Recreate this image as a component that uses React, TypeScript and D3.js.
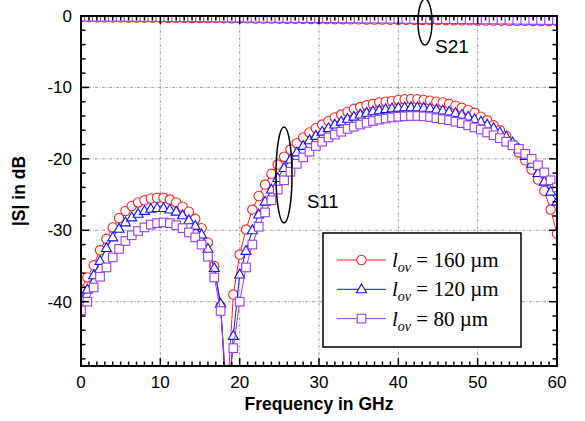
import React from "react";
import * as d3 from "d3";

const FREQ = [0,0.8,1.6,2.4,3.2,4,4.8,5.6,6.4,7.2,8,8.8,9.6,10.4,11.2,12,12.8,13.6,14.4,15.2,16,16.8,17.6,18.4,19.2,20,20.8,21.6,22.4,23.2,24,24.8,25.6,26.4,27.2,28,28.8,29.6,30.4,31.2,32,32.8,33.6,34.4,35.2,36,36.8,37.6,38.4,39.2,40,40.8,41.6,42.4,43.2,44,44.8,45.6,46.4,47.2,48,48.8,49.6,50.4,51.2,52,52.8,53.6,54.4,55.2,56,56.8,57.6,58.4,59.2,60];

const S11_160 = [-38.3,-36.6,-34.9,-32.8,-31.2,-29.6,-28.3,-27.3,-26.6,-26.1,-25.8,-25.55,-25.45,-25.45,-25.7,-26.1,-26.7,-27.4,-28.4,-29.7,-31.7,-35.0,-40.6,-54,-39.0,-33.4,-29.9,-27.1,-25.2,-23.6,-22.1,-20.8,-19.7,-18.7,-17.8,-17.0,-16.3,-15.7,-15.2,-14.7,-14.2,-13.8,-13.4,-13.0,-12.75,-12.5,-12.3,-12.1,-12.0,-11.9,-11.75,-11.65,-11.62,-11.65,-11.75,-11.85,-12.0,-12.1,-12.3,-12.55,-12.85,-13.15,-13.55,-14.1,-14.6,-15.3,-16.0,-16.8,-18.0,-19.1,-20.2,-21.5,-22.9,-24.5,-27.1,-30.5];
const S11_120 = [-39.6,-38.3,-36.3,-34.3,-32.5,-31.0,-29.8,-28.9,-28.2,-27.7,-27.3,-27.0,-26.9,-26.9,-27.1,-27.4,-27.9,-28.6,-29.4,-30.6,-32.6,-35.3,-40.3,-56,-44.8,-36.2,-32.9,-30.0,-27.8,-26.0,-24.3,-22.7,-21.3,-20.1,-19.1,-18.2,-17.4,-16.8,-16.2,-15.7,-15.2,-14.8,-14.4,-14.1,-13.8,-13.55,-13.35,-13.2,-13.05,-12.95,-12.85,-12.8,-12.78,-12.8,-12.85,-12.95,-13.1,-13.25,-13.4,-13.6,-13.85,-14.1,-14.45,-14.8,-15.2,-15.7,-16.3,-16.9,-17.7,-18.6,-19.6,-20.7,-22.0,-23.2,-24.6,-26.0];
const S11_80 = [-41.2,-40.0,-38.0,-36.5,-35.2,-33.8,-32.6,-31.5,-30.7,-30.1,-29.6,-29.2,-29.0,-28.9,-29.0,-29.3,-29.7,-30.3,-31.0,-32.0,-33.7,-36.6,-41.3,-53,-46.5,-40.0,-35.2,-32.0,-29.5,-27.5,-25.8,-24.3,-23.0,-21.8,-20.7,-19.8,-19.0,-18.2,-17.6,-17.0,-16.6,-16.2,-15.8,-15.5,-15.2,-14.95,-14.7,-14.5,-14.35,-14.2,-14.1,-14.05,-14.0,-14.0,-14.05,-14.15,-14.3,-14.45,-14.6,-14.8,-15.0,-15.3,-15.6,-15.9,-16.3,-16.7,-17.1,-17.6,-18.1,-18.6,-19.3,-20.0,-20.9,-21.9,-23.0,-24.0];

const FREQ21 = [0,1,2,3,4,5,6,7,8,9,10,11,12,13,14,15,16,17,18,19,20,21,22,23,24,25,26,27,28,29,30,31,32,33,34,35,36,37,38,39,40,41,42,43,44,45,46,47,48,49,50,51,52,53,54,55,56,57,58,59,60];
const S21_160 = [-0.15,-0.16,-0.17,-0.18,-0.18,-0.19,-0.2,-0.21,-0.22,-0.22,-0.23,-0.24,-0.25,-0.26,-0.27,-0.27,-0.28,-0.29,-0.3,-0.31,-0.32,-0.33,-0.34,-0.35,-0.36,-0.37,-0.38,-0.39,-0.4,-0.41,-0.42,-0.43,-0.44,-0.45,-0.46,-0.47,-0.48,-0.49,-0.5,-0.51,-0.52,-0.53,-0.54,-0.55,-0.56,-0.57,-0.58,-0.59,-0.6,-0.61,-0.62,-0.63,-0.64,-0.65,-0.66,-0.67,-0.68,-0.69,-0.7,-0.71,-0.72];
const S21_120 = [-0.12,-0.13,-0.13,-0.14,-0.15,-0.15,-0.16,-0.17,-0.18,-0.18,-0.19,-0.2,-0.21,-0.21,-0.22,-0.23,-0.24,-0.25,-0.25,-0.26,-0.27,-0.28,-0.29,-0.3,-0.3,-0.31,-0.32,-0.33,-0.34,-0.35,-0.36,-0.37,-0.37,-0.38,-0.39,-0.4,-0.41,-0.42,-0.43,-0.44,-0.45,-0.46,-0.46,-0.47,-0.48,-0.49,-0.5,-0.51,-0.52,-0.53,-0.54,-0.55,-0.55,-0.56,-0.57,-0.58,-0.59,-0.6,-0.61,-0.62,-0.63];
const S21_80 = [-0.1,-0.1,-0.11,-0.11,-0.12,-0.13,-0.13,-0.14,-0.15,-0.15,-0.16,-0.17,-0.17,-0.18,-0.19,-0.2,-0.2,-0.21,-0.22,-0.23,-0.23,-0.24,-0.25,-0.26,-0.27,-0.27,-0.28,-0.29,-0.3,-0.31,-0.32,-0.32,-0.33,-0.34,-0.35,-0.36,-0.37,-0.37,-0.38,-0.39,-0.4,-0.41,-0.42,-0.43,-0.43,-0.44,-0.45,-0.46,-0.47,-0.48,-0.49,-0.5,-0.5,-0.51,-0.52,-0.53,-0.54,-0.55,-0.56,-0.57,-0.58];

const SERIES_LABELS = ["160 \u00b5m", "120 \u00b5m", "80 \u00b5m"];
const SERIES_COLORS = ["#ff2020", "#1010ff", "#9a3cf2"];
const SERIES_SHAPES = ["circle", "triangle", "square"];
const S11_ALL = [S11_160, S11_120, S11_80];
const S21_ALL = [S21_160, S21_120, S21_80];

const X_TICKS = [0, 10, 20, 30, 40, 50, 60];
const Y_TICKS = [0, -10, -20, -30, -40];

const W = 585, H = 421;
const L = 81, R = 557, T = 16, B = 366;
const sans = "'Liberation Sans', Arial, Helvetica, sans-serif";
const serif = "'Liberation Serif', 'Times New Roman', Times, serif";

function Marker({ shape, x, y, color }: { shape: string; x: number; y: number; color: string }) {
  if (shape === "circle") return <circle cx={x} cy={y} r={4.7} fill="#fff" stroke={color} strokeWidth={1.1} />;
  if (shape === "triangle")
    return <path d={`M${x},${y - 5.4}L${x + 5},${y + 3.4}L${x - 5},${y + 3.4}Z`} fill="#fff" stroke={color} strokeWidth={1.1} />;
  return <rect x={x - 4.3} y={y - 4.3} width={8.6} height={8.6} fill="#fff" stroke={color} strokeWidth={1.1} />;
}

export default function App() {
  const x = d3.scaleLinear().domain([0, 60]).range([L, R]);
  const y = d3.scaleLinear().domain([-49, 0]).range([B, T]);
  const line = d3.line<[number, number]>().x((d) => x(d[0])).y((d) => y(d[1]));

  const xMinor = d3.range(0, 61, 1);
  const yMinor = d3.range(-48, 0.01, 2);

  const grid = "#8a8a8a";
  return (
    <svg width={W} height={H} style={{ position: "absolute", left: 0, top: 0, background: "#fff" }}>
      <defs>
        <clipPath id="plot">
          <rect x={L} y={T} width={R - L} height={B - T} />
        </clipPath>
      </defs>
      <rect x={0} y={0} width={W} height={H} fill="#fff" />
      {X_TICKS.slice(1, -1).map((t) => (
        <line key={"gx" + t} x1={x(t)} x2={x(t)} y1={T} y2={B} stroke={grid} strokeWidth={0.8} strokeDasharray="3 1.5 1 1.5" />
      ))}
      {Y_TICKS.slice(1).map((t) => (
        <line key={"gy" + t} x1={L} x2={R} y1={y(t)} y2={y(t)} stroke={grid} strokeWidth={0.8} strokeDasharray="3 1.5 1 1.5" />
      ))}
      <g clipPath="url(#plot)">
        {S11_ALL.map((vals, si) => {
          const pts = FREQ.map((f, i) => [f, vals[i]] as [number, number]);
          const pts21 = FREQ21.map((f, i) => [f, S21_ALL[si][i]] as [number, number]);
          return (
            <g key={"s" + si}>
              <path d={line(pts) || ""} fill="none" stroke={SERIES_COLORS[si]} strokeWidth={1} />
              {pts.filter((p) => p[1] >= -50).map((p, i) => (
                <Marker key={i} shape={SERIES_SHAPES[si]} x={x(p[0])} y={y(p[1])} color={SERIES_COLORS[si]} />
              ))}
              <path d={line(pts21) || ""} fill="none" stroke={SERIES_COLORS[si]} strokeWidth={1} />
              {pts21.map((p, i) => (
                <Marker key={"t" + i} shape={SERIES_SHAPES[si]} x={x(p[0])} y={y(p[1])} color={SERIES_COLORS[si]} />
              ))}
            </g>
          );
        })}
      </g>
      {xMinor.map((t) => {
        const len = t % 10 === 0 ? 8 : 4.5;
        return (
          <g key={"xt" + t}>
            <line x1={x(t)} x2={x(t)} y1={B} y2={B - len} stroke="#000" strokeWidth={1.5} />
            <line x1={x(t)} x2={x(t)} y1={T} y2={T + len} stroke="#000" strokeWidth={1.5} />
          </g>
        );
      })}
      {yMinor.map((t) => {
        const len = t % 10 === 0 ? 8 : 4.5;
        return (
          <g key={"yt" + t}>
            <line x1={L} x2={L + len} y1={y(t)} y2={y(t)} stroke="#000" strokeWidth={1.5} />
            <line x1={R} x2={R - len} y1={y(t)} y2={y(t)} stroke="#000" strokeWidth={1.5} />
          </g>
        );
      })}
      <rect x={L} y={T} width={R - L} height={B - T} fill="none" stroke="#000" strokeWidth={2} />
      {X_TICKS.map((t) => (
        <text key={"xl" + t} x={x(t)} y={388} textAnchor="middle" fontFamily={sans} fontSize={17} fill="#000">
          {t}
        </text>
      ))}
      {Y_TICKS.map((t) => (
        <text key={"yl" + t} x={72} y={y(t) + 6} textAnchor="end" fontFamily={sans} fontSize={17} fill="#000">
          {t}
        </text>
      ))}
      <text x={(L + R) / 2} y={410} textAnchor="middle" fontFamily={sans} fontWeight="bold" fontSize={17.5} fill="#000">
        Frequency in GHz
      </text>
      <text transform={`translate(25,${(T + B) / 2}) rotate(-90)`} textAnchor="middle" fontFamily={sans} fontWeight="bold" fontSize={17.5} fill="#000">
        |S| in dB
      </text>
      <ellipse cx={284} cy={175} rx={8} ry={48} fill="none" stroke="#000" strokeWidth={1.5} />
      <text x={307} y={208} fontFamily={sans} fontSize={18.5} fill="#000">S11</text>
      <ellipse cx={425} cy={22} rx={7} ry={23} fill="none" stroke="#000" strokeWidth={1.5} />
      <text x={435} y={53} fontFamily={sans} fontSize={19} fill="#000">S21</text>
      <rect x={323} y={233} width={198} height={114} fill="#fff" stroke="#000" strokeWidth={1.5} />
      {SERIES_LABELS.map((lab, i) => {
        const ry = 260 + i * 29.3;
        return (
          <g key={"lg" + i}>
            <line x1={337} x2={386} y1={ry} y2={ry} stroke={SERIES_COLORS[i]} strokeWidth={1} />
            <Marker shape={SERIES_SHAPES[i]} x={361.5} y={ry} color={SERIES_COLORS[i]} />
            <text x={392} y={ry + 7} fontFamily={serif} fontSize={21} fill="#000">
              <tspan fontStyle="italic">l</tspan>
              <tspan fontStyle="italic" fontSize={14} dy={5}>ov</tspan>
              <tspan dy={-5}> = {lab}</tspan>
            </text>
          </g>
        );
      })}
    </svg>
  );
}
